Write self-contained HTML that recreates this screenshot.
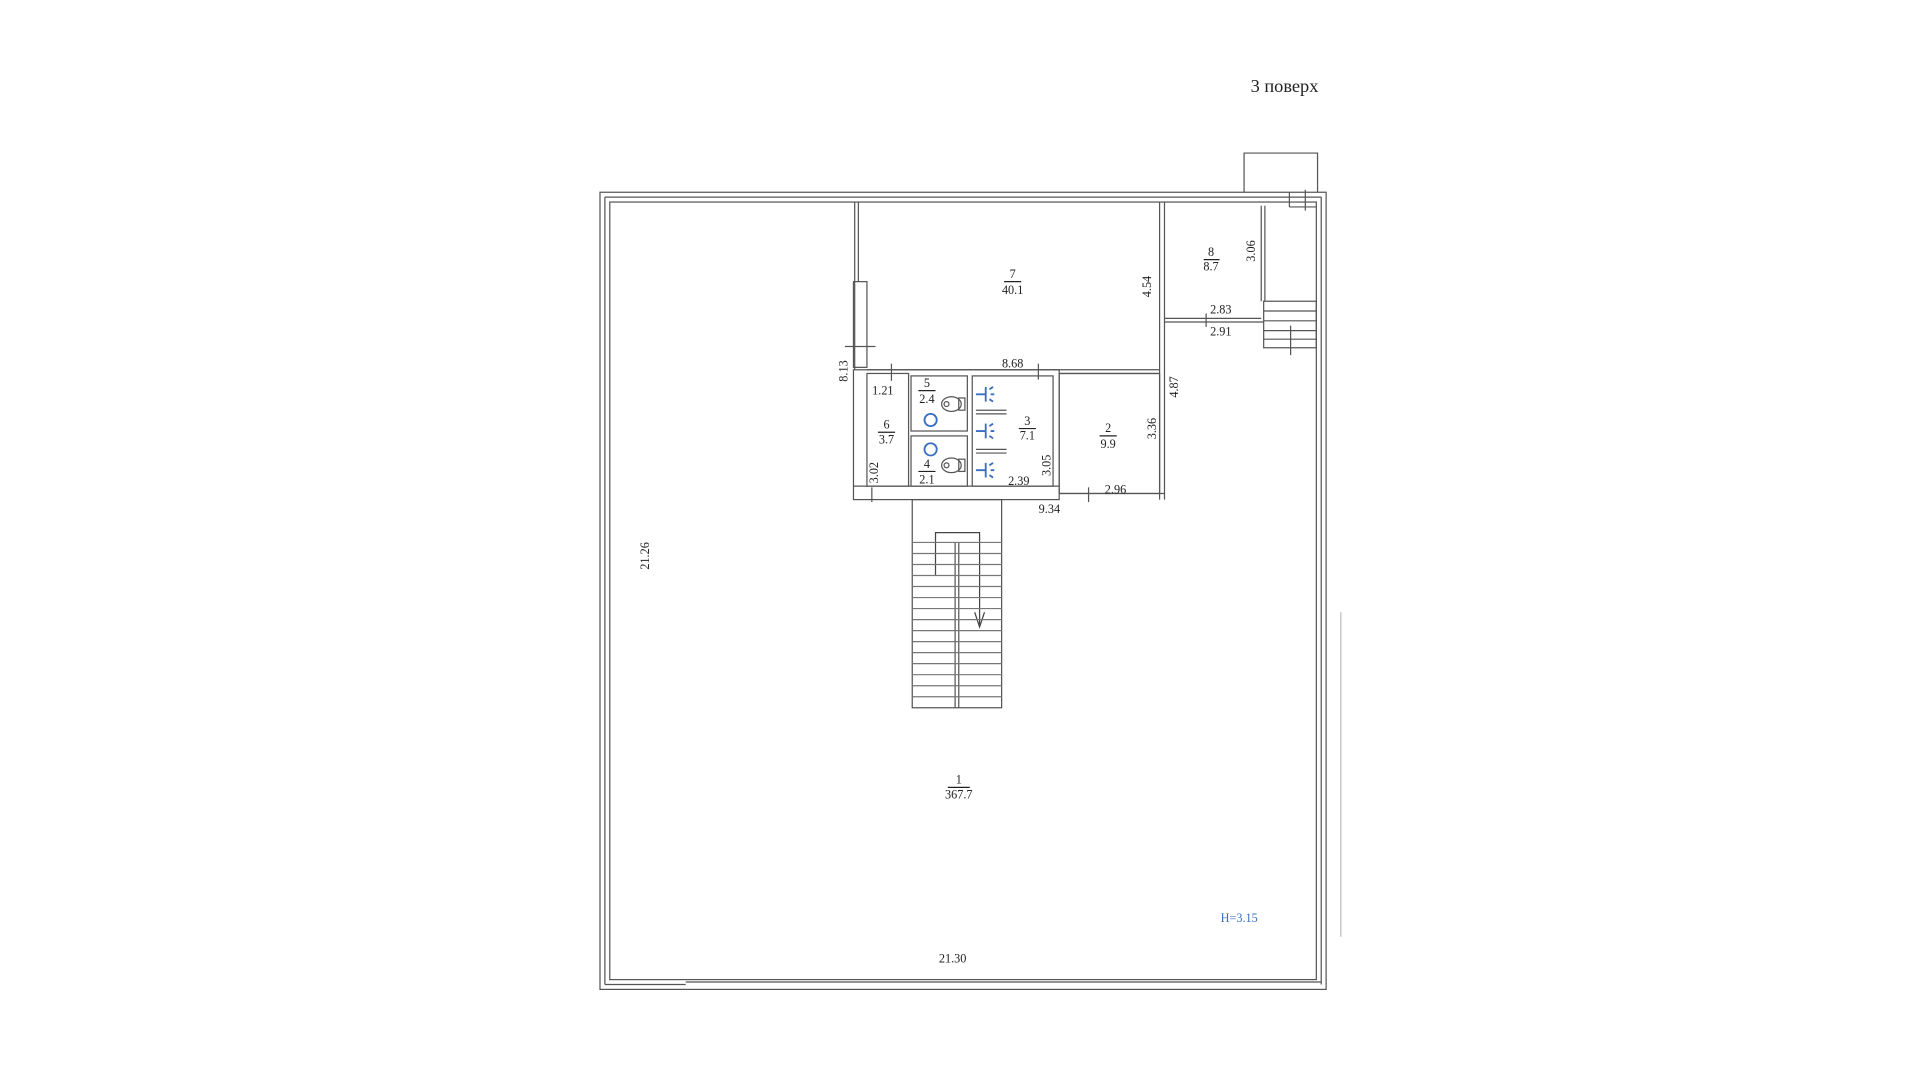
<!DOCTYPE html>
<html><head><meta charset="utf-8"><style>
html,body{margin:0;padding:0;background:#fff;}
svg{display:block}
text{font-family:"Liberation Serif",serif;fill:#222;}
</style></head><body>
<svg width="1920" height="1080" viewBox="0 0 1568 882" xmlns="http://www.w3.org/2000/svg">
<g fill="none" stroke="#555" stroke-width="1">
<!-- outer walls -->
<rect x="490" y="157" width="593" height="651"/>
<rect x="498" y="165" width="577" height="635"/>
<line x1="494" y1="161" x2="1079" y2="161"/>
<line x1="494" y1="161" x2="494" y2="804"/>
<line x1="1079" y1="161" x2="1079" y2="804"/>
<line x1="494" y1="804" x2="560" y2="804"/>
<line x1="560" y1="802" x2="1079" y2="802"/>
<line x1="1053" y1="157" x2="1053" y2="169"/>
<line x1="1053" y1="169" x2="1075" y2="169"/>
<line x1="1066" y1="155" x2="1066" y2="172"/>
<!-- top small box -->
<polyline points="1016,157 1016,125 1076,125 1076,157"/>
<!-- room 7 walls -->
<line x1="698" y1="165" x2="698" y2="302"/>
<line x1="701" y1="165" x2="701" y2="230"/>
<rect x="697" y="230" width="11" height="70"/>
<line x1="947" y1="165" x2="947" y2="408"/>
<line x1="951" y1="165" x2="951" y2="408"/>
<line x1="708" y1="302" x2="947" y2="302"/>
<line x1="865" y1="305" x2="947" y2="305"/>
<!-- room 8 -->
<line x1="1030" y1="168" x2="1030" y2="246"/>
<line x1="1033" y1="168" x2="1033" y2="246"/>
<line x1="951" y1="260" x2="1030" y2="260"/>
<line x1="951" y1="263" x2="1032" y2="263"/>
<!-- right stairs -->
<rect x="1032" y="246" width="43" height="38"/>
<line x1="1032" y1="254" x2="1075" y2="254"/>
<line x1="1032" y1="262" x2="1075" y2="262"/>
<line x1="1032" y1="270" x2="1075" y2="270"/>
<line x1="1032" y1="277" x2="1075" y2="277"/>
<line x1="1054" y1="266" x2="1054" y2="290"/>
<!-- central block -->
<rect x="697" y="302" width="168" height="106"/>
<rect x="708" y="305" width="34" height="92"/>
<rect x="744" y="307" width="46" height="45"/>
<rect x="744" y="356" width="46" height="41"/>
<rect x="794" y="307" width="66" height="90"/>
<line x1="697" y1="397" x2="865" y2="397"/>
<rect x="865" y="305" width="82" height="98"/>
<line x1="865" y1="403" x2="951" y2="403"/>
<line x1="797" y1="335" x2="822" y2="335"/>
<line x1="797" y1="338" x2="822" y2="338"/>
<line x1="797" y1="367" x2="822" y2="367"/>
<line x1="797" y1="370" x2="822" y2="370"/>
<!-- toilets -->
<ellipse cx="777" cy="330" rx="8" ry="6"/><circle cx="773" cy="330" r="2"/><rect x="783" y="325" width="5" height="10"/>
<ellipse cx="777" cy="380" rx="8" ry="6"/><circle cx="773" cy="380" r="2"/><rect x="783" y="375" width="5" height="10"/>
<!-- dim ticks -->
<line x1="690" y1="283" x2="715" y2="283"/>
<line x1="728" y1="297" x2="728" y2="311"/>
<line x1="848" y1="297" x2="848" y2="310"/>
<line x1="889" y1="398" x2="889" y2="410"/>
<line x1="712" y1="398" x2="712" y2="410"/>
<line x1="985" y1="256" x2="985" y2="267"/>
<!-- stairs down -->
<rect x="745" y="408" width="73" height="170"/>
<line x1="780" y1="443" x2="780" y2="578"/>
<line x1="783" y1="443" x2="783" y2="578"/>
<polyline points="764,470 764,435 800,435 800,510" stroke="#444"/>
<polyline points="796,500 800,512 804,500" stroke="#444"/>
</g>
<g stroke="#777" stroke-width="1">
<line x1="745" y1="443" x2="818" y2="443"/><line x1="745" y1="452" x2="818" y2="452"/>
<line x1="745" y1="461" x2="818" y2="461"/><line x1="745" y1="470" x2="818" y2="470"/>
<line x1="745" y1="479" x2="818" y2="479"/><line x1="745" y1="488" x2="818" y2="488"/>
<line x1="745" y1="497" x2="818" y2="497"/><line x1="745" y1="506" x2="818" y2="506"/>
<line x1="745" y1="515" x2="818" y2="515"/><line x1="745" y1="524" x2="818" y2="524"/>
<line x1="745" y1="533" x2="818" y2="533"/><line x1="745" y1="542" x2="818" y2="542"/>
<line x1="745" y1="551" x2="818" y2="551"/><line x1="745" y1="560" x2="818" y2="560"/>
<line x1="745" y1="569" x2="818" y2="569"/>
</g>
<!-- blue fixtures -->
<g fill="none" stroke="#3a6fc0" stroke-width="1.5">
<circle cx="760" cy="343" r="5"/><circle cx="760" cy="367" r="5"/>
<path d="M797 322h8M805 316v12M808 318l3-2M809 322h3M808 326l3 2"/>
<path d="M797 352h8M805 346v12M808 348l3-2M809 352h3M808 356l3 2"/>
<path d="M797 384h8M805 378v12M808 380l3-2M809 384h3M808 388l3 2"/>
</g>
<g font-size="10" text-anchor="middle">
<text x="827" y="227">7</text><line x1="820" y1="230" x2="834" y2="230" stroke="#222"/><text x="827" y="240">40.1</text>
<text x="989" y="209">8</text><line x1="983" y1="212" x2="996" y2="212" stroke="#222"/><text x="989" y="221">8.7</text>
<text x="757" y="316">5</text><line x1="750" y1="319" x2="764" y2="319" stroke="#222"/><text x="757" y="329">2.4</text>
<text x="724" y="350">6</text><line x1="717" y1="353" x2="731" y2="353" stroke="#222"/><text x="724" y="362">3.7</text>
<text x="757" y="382">4</text><line x1="750" y1="385" x2="764" y2="385" stroke="#222"/><text x="757" y="395">2.1</text>
<text x="839" y="347">3</text><line x1="832" y1="350" x2="846" y2="350" stroke="#222"/><text x="839" y="359">7.1</text>
<text x="905" y="353">2</text><line x1="898" y1="356" x2="912" y2="356" stroke="#222"/><text x="905" y="366">9.9</text>
<text x="783" y="640">1</text><line x1="774" y1="643" x2="792" y2="643" stroke="#222"/><text x="783" y="652">367.7</text>
<text x="827" y="300">8.68</text>
<text x="721" y="322">1.21</text>
<text x="997" y="256">2.83</text>
<text x="997" y="274">2.91</text>
<text x="832" y="396">2.39</text>
<text x="911" y="403">2.96</text>
<text x="857" y="419">9.34</text>
<text x="778" y="786">21.30</text>
<text transform="translate(692,303) rotate(-90)">8.13</text>
<text transform="translate(940,234) rotate(-90)">4.54</text>
<text transform="translate(962,316) rotate(-90)">4.87</text>
<text transform="translate(1025,205) rotate(-90)">3.06</text>
<text transform="translate(944,350) rotate(-90)">3.36</text>
<text transform="translate(858,380) rotate(-90)">3.05</text>
<text transform="translate(717,386) rotate(-90)">3.02</text>
<text transform="translate(530,454) rotate(-90)">21.26</text>
<text x="1012" y="753" style="fill:#3a6fc0">H=3.15</text>
</g>
<text x="1049" y="75" font-size="15" text-anchor="middle">3 поверх</text>
<line x1="1095" y1="500" x2="1095" y2="765" stroke="#bbb"/>
</svg>
</body></html>
